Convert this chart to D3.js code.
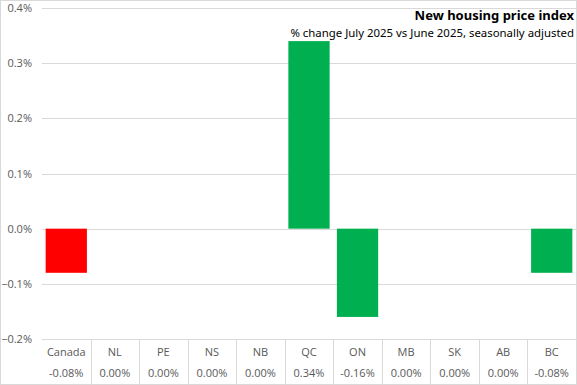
<!DOCTYPE html>
<html><head><meta charset="utf-8">
<script src="https://cdn.jsdelivr.net/npm/d3@7"></script>
<style>body{margin:0;background:#fff}svg{display:block}</style>
</head><body>
<svg id="c" width="577" height="385"></svg>
<script>
const categories = ["Canada","NL","PE","NS","NB","QC","ON","MB","SK","AB","BC"];
const values = [-0.08,0,0,0,0,0.34,-0.16,0,0,0,-0.08];
const valueLabels = ["-0.08%","0.00%","0.00%","0.00%","0.00%","0.34%","-0.16%","0.00%","0.00%","0.00%","-0.08%"];
const barColors = ["#FF0000","#00B050","#00B050","#00B050","#00B050","#00B050","#00B050","#00B050","#00B050","#00B050","#00B050"];
const yTicks = [-0.2,-0.1,0,0.1,0.2,0.3,0.4];
const title = "New housing price index";
const subtitle = "% change July 2025 vs June 2025, seasonally adjusted";

const W=577,H=385;
const m={left:42,right:1,top:8,bottom:46};
const svg=d3.select("#c");
const font="'Open Sans', sans-serif";
svg.append("rect").attr("x",0.5).attr("y",0.5).attr("width",W-1).attr("height",H-1).attr("fill","#fff").attr("stroke","#d9d9d9");

const x=d3.scaleBand().domain(categories).range([m.left,W-m.right]).paddingInner(0.15).paddingOuter(0.075);
const xb=d3.scaleBand().domain(categories).range([m.left,W-m.right]);
const y=d3.scaleLinear().domain([-0.2,0.4]).range([H-m.bottom,m.top]);

// gridlines
svg.append("g").selectAll("line").data(yTicks).join("line")
 .attr("x1",m.left).attr("x2",W-m.right)
 .attr("y1",d=>Math.round(y(d))+0.5).attr("y2",d=>Math.round(y(d))+0.5)
 .attr("stroke","#d9d9d9").attr("stroke-width",1);

// y labels
const yAxis=d3.axisLeft(y).tickValues(yTicks).tickSize(0).tickPadding(8).tickFormat(d=>d3.format(".1f")(d)+"%");
const ga=svg.append("g").attr("transform",`translate(${m.left},0)`).call(yAxis);
ga.select(".domain").remove();
ga.selectAll("text").attr("font-family",font).attr("font-size",11).attr("fill","#595959").attr("dx",-2);

// bars
svg.append("g").selectAll("rect").data(categories).join("rect")
 .attr("x",d=>x(d)).attr("width",x.bandwidth())
 .attr("y",(d,i)=>y(Math.max(0,values[i])))
 .attr("height",(d,i)=>Math.abs(y(values[i])-y(0)))
 .attr("fill",(d,i)=>barColors[i]);

// data table
const tb=H-m.bottom;
const tg=svg.append("g");
categories.forEach((c,i)=>{
  if(i>0) tg.append("line").attr("x1",Math.round(xb(c))+0.5).attr("x2",Math.round(xb(c))+0.5).attr("y1",tb).attr("y2",H).attr("stroke","#d9d9d9");
});
tg.selectAll("text.cat").data(categories).join("text").attr("class","cat")
 .attr("x",d=>xb(d)+xb.bandwidth()/2).attr("y",tb+17).attr("text-anchor","middle")
 .attr("font-family",font).attr("font-size",11).attr("fill","#595959").text(d=>d);
tg.selectAll("text.val").data(categories).join("text").attr("class","val")
 .attr("x",d=>xb(d)+xb.bandwidth()/2).attr("y",tb+38).attr("text-anchor","middle")
 .attr("font-family",font).attr("font-size",11).attr("fill","#595959").text((d,i)=>valueLabels[i]);

// titles
svg.append("text").attr("x",574).attr("y",20).attr("text-anchor","end")
 .attr("font-family","'Noto Sans', sans-serif").attr("font-weight","bold").attr("font-size",13).attr("fill","#000").text(title);
svg.append("text").attr("x",574).attr("y",37).attr("text-anchor","end")
 .attr("font-family","'Noto Sans', sans-serif").attr("font-size",11.4).attr("fill","#000").text(subtitle);
</script>
</body></html>
